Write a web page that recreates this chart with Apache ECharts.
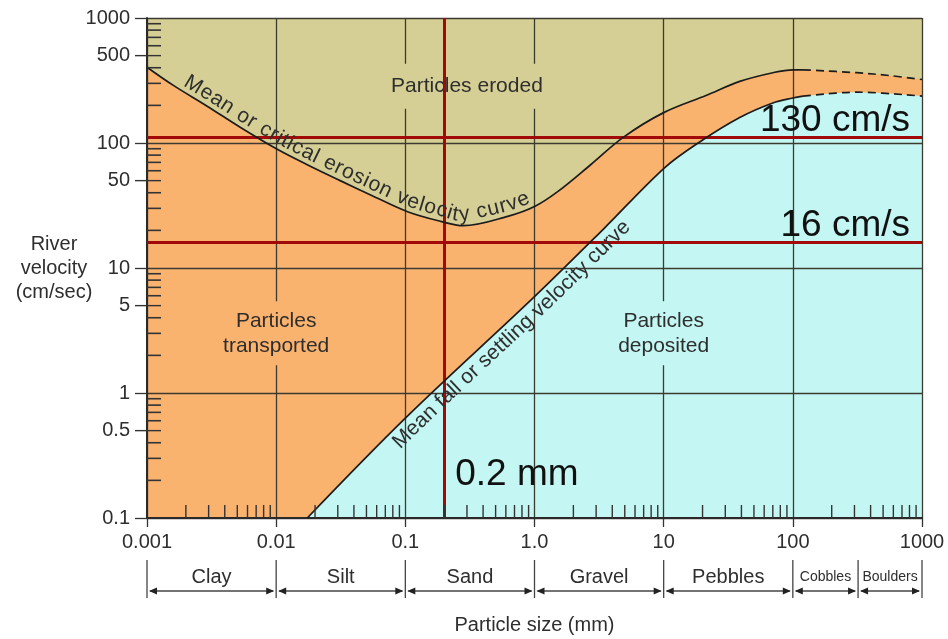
<!DOCTYPE html>
<html><head><meta charset="utf-8">
<script src="https://cdn.jsdelivr.net/npm/echarts@6/dist/echarts.min.js"></script>
<style>html,body{margin:0;padding:0;background:#fff}#chart{width:948px;height:639px}</style>
</head><body><div id="chart"></div>
<script>
// ---------------- DATA ----------------
// Mean or critical erosion velocity curve (particle size mm -> velocity cm/s)
const erosionSize = [0.001, 0.0016, 0.0029, 0.0053, 0.0102, 0.0174, 0.0313, 0.0565, 0.104, 0.188, 0.28, 0.63, 1.0, 1.52, 2.72, 4.86, 10, 21.5, 38.8, 70, 100, 120, 313, 565, 1000];
const erosionVel  = [404, 289, 198, 133, 89, 67, 50, 37.5, 28.2, 23.6, 21.8, 26, 31, 41, 67, 111, 175, 241, 311, 365, 385, 385, 365, 346, 322];
// Mean fall or settling velocity curve
const settlingSize = [0.0174, 0.1, 1.0, 3.42, 10.2, 19, 38.8, 70, 100, 120, 313, 1000];
const settlingVel  = [0.1, 0.63, 5.9, 20.5, 63.6, 102, 160, 209, 229, 237, 255, 237];
// size beyond which both curves are dashed (extrapolated)
const dashedFrom = 120;
// reference lines (upper line position as drawn in the picture)
const refVelocities = [112, 16];
const refVelLabels = ['130 cm/s', '16 cm/s'];
const refSize = 0.2;
const refSizeLabel = '0.2 mm';
// size classes (mm)
const classNames = ['Clay', 'Silt', 'Sand', 'Gravel', 'Pebbles', 'Cobbles', 'Boulders'];
const classBounds = [0.001, 0.01, 0.1, 1, 10, 100, 320, 1000];
// axis ticks
const tickMultipliers = [2, 3, 4, 5, 6, 7, 8, 9];
const xDecades = [0.001, 0.01, 0.1, 1, 10, 100];
const yDecades = [0.1, 1, 10, 100];
const yHalfTicks = [0.5, 5, 50, 500];
const xMin = 0.001, xMax = 1000, yMin = 0.1, yMax = 1000;

// ---------------- STYLE ----------------
const FONT = '"Liberation Sans", Arial, sans-serif';
const TXT = '#2e2e2e';
const KHAKI = '#d6cf95', ORANGE = '#fab26f', CYAN = '#c4f7f3';
const RED = '#a20a0a', GRID = '#3c3b30', CURVE = '#1c1c1c';
const SMOOTH = 0.35;

const pairs = (xs, ys) => xs.map((x, i) => [x, ys[i]]);
const erosionData = pairs(erosionSize, erosionVel);
const settlingData = pairs(settlingSize, settlingVel);
const eSplit = erosionSize.indexOf(dashedFrom);
const sSplit = settlingSize.indexOf(dashedFrom);

const xMinor = xDecades.flatMap(d => tickMultipliers.map(m => +(d * m).toPrecision(3)));
const yMinor = yDecades.flatMap(d => tickMultipliers.filter(m => m !== 5).map(m => +(d * m).toPrecision(3)));

const measureCtx = document.createElement('canvas').getContext('2d');

function smoothPath(pts) {
  const out = [];
  const n = pts.length;
  for (let i = 0; i < n - 1; i++) {
    const p0 = pts[Math.max(i - 1, 0)], p1 = pts[i], p2 = pts[i + 1], p3 = pts[Math.min(i + 2, n - 1)];
    for (let k = 0; k < 10; k++) {
      const t = k / 10, t2 = t * t, t3 = t2 * t;
      const f = j => 0.5 * (2 * p1[j] + (-p0[j] + p2[j]) * t + (2 * p0[j] - 5 * p1[j] + 4 * p2[j] - p3[j]) * t2 + (-p0[j] + 3 * p1[j] - 3 * p2[j] + p3[j]) * t3);
      out.push([f(0), f(1)]);
    }
  }
  out.push(pts[n - 1]);
  return out;
}

function curvedText(api, xs, ys, text, x0, x1, offset, side, fontSize) {
  const path = smoothPath(xs.map((x, i) => api.coord([x, ys[i]])));
  const off = path.map((p, i) => {
    const a = path[Math.max(i - 1, 0)], b = path[Math.min(i + 1, path.length - 1)];
    let dx = b[0] - a[0], dy = b[1] - a[1];
    const L = Math.hypot(dx, dy) || 1; dx /= L; dy /= L;
    return [p[0] + side * dy * offset, p[1] - side * dx * offset];
  });
  const cum = [0];
  for (let i = 1; i < off.length; i++) cum.push(cum[i - 1] + Math.hypot(off[i][0] - off[i - 1][0], off[i][1] - off[i - 1][1]));
  const sAtX = px => {
    for (let i = 1; i < off.length; i++) {
      if (off[i][0] >= px) {
        const t = (px - off[i - 1][0]) / ((off[i][0] - off[i - 1][0]) || 1);
        return cum[i - 1] + t * (cum[i] - cum[i - 1]);
      }
    }
    return cum[cum.length - 1];
  };
  const pointAt = s => {
    let i = 1;
    while (i < cum.length - 1 && cum[i] < s) i++;
    const a = off[Math.max(i - 3, 0)], b = off[Math.min(i + 2, off.length - 1)];
    const t = (s - cum[i - 1]) / ((cum[i] - cum[i - 1]) || 1);
    const p = off[i - 1], q = off[i];
    return [p[0] + t * (q[0] - p[0]), p[1] + t * (q[1] - p[1]), Math.atan2(b[1] - a[1], b[0] - a[0])];
  };
  const font = fontSize + 'px ' + FONT;
  measureCtx.font = font;
  const chars = Array.from(text);
  const widths = chars.map(c => measureCtx.measureText(c).width);
  const W = widths.reduce((a, b) => a + b, 0);
  const s0 = sAtX(api.coord([x0, yMin])[0]);
  const s1 = sAtX(api.coord([x1, yMin])[0]);
  const extra = (s1 - s0 - W) / (chars.length - 1);
  let s = s0;
  const children = [];
  chars.forEach((c, k) => {
    const m = s + widths[k] / 2;
    const [x, y, ang] = pointAt(m);
    if (c !== ' ') children.push({ type: 'text', x, y, rotation: -ang, style: { text: c, fill: TXT, font, align: 'center', verticalAlign: 'middle' } });
    s += widths[k] + extra;
  });
  return { type: 'group', children };
}

const chart = echarts.init(document.getElementById('chart'));

const option = {
  backgroundColor: '#fff',
  animation: false,
  grid: { left: 147, right: 26, top: 18, bottom: 121, show: true, backgroundColor: KHAKI, borderWidth: 0, containLabel: false, outerBoundsMode: 'none' },
  xAxis: {
    type: 'log', min: xMin, max: xMax, logBase: 10, splitNumber: 6, z: 3,
    name: 'Particle size (mm)', nameLocation: 'middle', nameGap: 97, nameMoveOverlap: false,
    nameTextStyle: { fontFamily: FONT, fontSize: 20, color: TXT },
    axisLine: { show: true, lineStyle: { color: '#2a2a2a', width: 2 } },
    axisTick: { show: true, inside: false, length: 9, lineStyle: { color: '#333', width: 1.3 } },
    axisLabel: { margin: 14, fontFamily: FONT, fontSize: 20, color: TXT, formatter: v => (Math.abs(v - 1) < 1e-9 ? '1.0' : String(+v.toPrecision(3))) },
    splitLine: { show: true, showMinLine: true, showMaxLine: true, lineStyle: { color: GRID, width: 1.3 } }
  },
  yAxis: {
    type: 'log', min: yMin, max: yMax, logBase: 10, splitNumber: 4, z: 3,
    name: 'River\nvelocity\n(cm/sec)', nameLocation: 'middle', nameGap: 93, nameRotate: 0, nameMoveOverlap: false,
    nameTextStyle: { fontFamily: FONT, fontSize: 20, color: TXT, align: 'center', verticalAlign: 'middle', lineHeight: 24 },
    axisLine: { show: true, lineStyle: { color: '#2a2a2a', width: 2 } },
    axisTick: { show: true, inside: false, length: 12, lineStyle: { color: '#333', width: 1.3 } },
    axisLabel: { margin: 17, fontFamily: FONT, fontSize: 20, color: TXT, formatter: v => String(+v.toPrecision(3)) },
    splitLine: { show: true, showMinLine: true, showMaxLine: true, lineStyle: { color: GRID, width: 1.3 } }
  },
  series: [
    { name: 'erosion area', type: 'line', data: erosionData, smooth: SMOOTH, symbol: 'none', silent: true, z: 1,
      lineStyle: { width: 0 }, areaStyle: { color: ORANGE, opacity: 1, origin: 'start' } },
    { name: 'settling area', type: 'line', data: settlingData, smooth: SMOOTH, symbol: 'none', silent: true, z: 2,
      lineStyle: { width: 0 }, areaStyle: { color: CYAN, opacity: 1, origin: 'start' } },
    { name: 'region labels', type: 'custom', z: 4, silent: true, clip: false,
      data: [[0.3, 285, 0], [0.01, 3, 1], [10, 3, 2]],
      renderItem: (params, api) => {
        const i = api.value(2);
        const p = api.coord([api.value(0), api.value(1)]);
        const texts = ['Particles eroded', 'Particles\ntransported', 'Particles\ndeposited'];
        const bgs = [KHAKI, ORANGE, CYAN];
        return { type: 'text', x: p[0], y: p[1], style: { text: texts[i], fill: TXT, font: '21px ' + FONT, align: 'center', verticalAlign: 'middle', lineHeight: 25, backgroundColor: bgs[i], padding: i === 0 ? [10, 4] : [7, 4] } };
      } },
    { name: 'erosion curve', type: 'line', data: erosionData.slice(0, eSplit + 1), smooth: SMOOTH, symbol: 'none', silent: true, z: 5,
      lineStyle: { color: CURVE, width: 1.7 } },
    { name: 'erosion curve (extrapolated)', type: 'line', data: erosionData.slice(eSplit), smooth: SMOOTH, symbol: 'none', silent: true, z: 5,
      lineStyle: { color: CURVE, width: 1.7, type: [8, 5] } },
    { name: 'settling curve', type: 'line', data: settlingData.slice(0, sSplit + 1), smooth: SMOOTH, symbol: 'none', silent: true, z: 5,
      lineStyle: { color: CURVE, width: 1.7 } },
    { name: 'settling curve (extrapolated)', type: 'line', data: settlingData.slice(sSplit), smooth: SMOOTH, symbol: 'none', silent: true, z: 5,
      lineStyle: { color: CURVE, width: 1.7, type: [8, 5] } },
    { name: 'curve labels', type: 'custom', z: 5, silent: true, clip: false, data: [[0.01, 1]],
      renderItem: (params, api) => ({ type: 'group', children: [
        curvedText(api, erosionSize, erosionVel, 'Mean or critical erosion velocity curve', 0.002, 0.9, 11, 1, 21),
        curvedText(api, settlingSize, settlingVel, 'Mean fall or settling velocity curve', 0.085, 5.2, 13, -1, 21)
      ] }) },
    { name: 'reference lines', type: 'line', data: [], z: 6, silent: true,
      markLine: { symbol: 'none', silent: true, animation: false,
        lineStyle: { color: RED, width: 3, type: 'solid' },
        data: [
          ...refVelocities.map((v, i) => ({ yAxis: v, label: { show: true, position: 'insideEndTop', formatter: refVelLabels[i], fontFamily: FONT, fontSize: 37, color: '#111', distance: -2, padding: [0, 14, 0, 0] } })),
          { xAxis: refSize, label: { show: false } }
        ] } },
    { name: 'ref size label', type: 'custom', z: 7, silent: true, clip: false, data: [[refSize, 0.22]],
      renderItem: (params, api) => {
        const p = api.coord([api.value(0), api.value(1)]);
        return { type: 'text', x: p[0] + 11, y: p[1], style: { text: refSizeLabel, fill: '#111', font: '37px ' + FONT, align: 'left', verticalAlign: 'middle' } };
      } },
    { name: 'x minor ticks', type: 'custom', z: 7, silent: true, clip: false, data: xMinor.map(v => [v, yMin]),
      renderItem: (params, api) => {
        const p = api.coord([api.value(0), yMin]);
        return { type: 'line', shape: { x1: p[0], y1: p[1], x2: p[0], y2: p[1] - 13 }, style: { stroke: '#333', lineWidth: 1.4 } };
      } },
    { name: 'y minor ticks', type: 'custom', z: 7, silent: true, clip: false, data: yMinor.map(v => [xMin, v]),
      renderItem: (params, api) => {
        const p = api.coord([xMin, api.value(1)]);
        return { type: 'line', shape: { x1: p[0], y1: p[1], x2: p[0] + 14, y2: p[1] }, style: { stroke: '#333', lineWidth: 1.6 } };
      } },
    { name: 'y half ticks', type: 'custom', z: 7, silent: true, clip: false, data: yHalfTicks.map(v => [xMin, v]),
      renderItem: (params, api) => {
        const v = api.value(1);
        const p = api.coord([xMin, v]);
        return { type: 'group', children: [
          { type: 'line', shape: { x1: p[0] - 12, y1: p[1], x2: p[0] + 14, y2: p[1] }, style: { stroke: '#333', lineWidth: 1.4 } },
          { type: 'text', x: p[0] - 17, y: p[1], style: { text: String(v), fill: TXT, font: '20px ' + FONT, align: 'right', verticalAlign: 'middle' } }
        ] };
      } },
    { name: 'size classes', type: 'custom', z: 7, silent: true, clip: false, data: classNames.map((n, i) => [classBounds[i], yMin, i]),
      renderItem: (params, api) => {
        const i = api.value(2);
        const a = api.coord([classBounds[i], yMin]);
        const b = api.coord([classBounds[i + 1], yMin]);
        const base = a[1], ay = base + 73;
        const col = '#444';
        const narrow = (b[0] - a[0]) < 100;
        const ch = [
          { type: 'line', shape: { x1: a[0], y1: base + 42, x2: a[0], y2: base + 80 }, style: { stroke: col, lineWidth: 1.3 } },
          { type: 'line', shape: { x1: a[0] + 3, y1: ay, x2: b[0] - 3, y2: ay }, style: { stroke: col, lineWidth: 1.3 } },
          { type: 'polygon', shape: { points: [[a[0] + 2, ay], [a[0] + 10, ay - 3.5], [a[0] + 10, ay + 3.5]] }, style: { fill: '#222' } },
          { type: 'polygon', shape: { points: [[b[0] - 2, ay], [b[0] - 10, ay - 3.5], [b[0] - 10, ay + 3.5]] }, style: { fill: '#222' } },
          { type: 'text', x: (a[0] + b[0]) / 2, y: base + 59, style: { text: classNames[i], fill: TXT, font: (narrow ? 14 : 20) + 'px ' + FONT, align: 'center', verticalAlign: 'middle' } }
        ];
        if (i === classNames.length - 1) ch.push({ type: 'line', shape: { x1: b[0], y1: base + 42, x2: b[0], y2: base + 80 }, style: { stroke: col, lineWidth: 1.3 } });
        return { type: 'group', children: ch };
      } }
  ]
};
chart.setOption(option);
</script>
</body></html>
